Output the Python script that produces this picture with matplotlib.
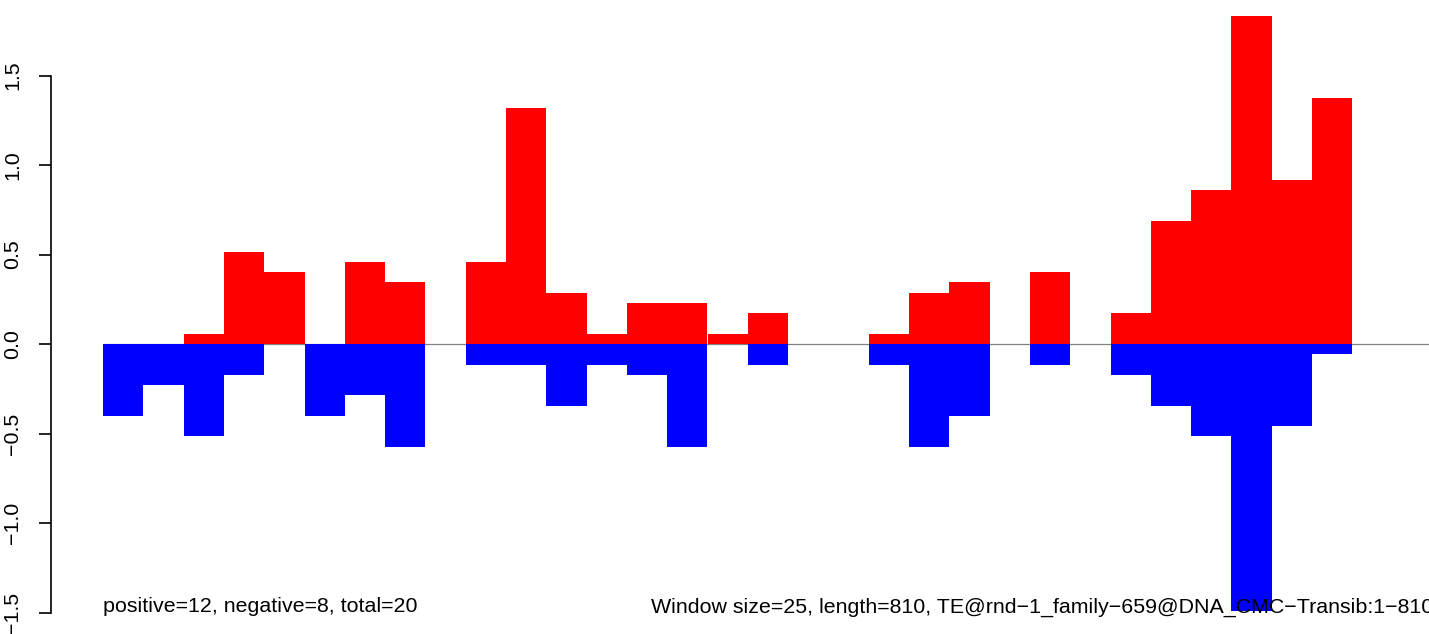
#! /usr/bin/env python3
import matplotlib
matplotlib.use('Agg')
import matplotlib.pyplot as plt
import numpy as np

#Window data, one value per window of 25 bp
nWindows = 33
positive = [0, 0, 0.057, 0.516, 0.401, 0, 0.458, 0.344, 0, 0.458,
            1.318, 0.287, 0.057, 0.229, 0.229, 0.057, 0.172, 0, 0, 0.057,
            0.287, 0.344, 0, 0.401, 0, 0.172, 0.688, 0.860, 1.834, 0.917,
            1.375, 0, 0]
negative = [0.401, 0.229, 0.516, 0.172, 0, 0.401, 0.287, 0.573, 0, 0.115,
            0.115, 0.344, 0.115, 0.172, 0.573, 0, 0.115, 0, 0, 0.115,
            0.573, 0.401, 0, 0.115, 0, 0.172, 0.344, 0.516, 1.49, 0.458,
            0.057, 0, 0]
yTicks = [-1.5, -1.0, -0.5, 0.0, 0.5, 1.0, 1.5]
leftText = "positive=12, negative=8, total=20"
rightText = "Window size=25, length=810, TE@rnd\u22121_family\u2212659@DNA_CMC\u2212Transib:1\u2212810"

plt.rcParams['font.family'] = ['Liberation Sans', 'DejaVu Sans']

W, H = 1429, 634
fig = plt.figure(figsize=(W / 100, H / 100), dpi=100)
#Plot region: y axis line at x=51px, everything else fills the figure
ax = fig.add_axes([51 / W, 0, 1 - 51 / W, 1])

x = np.arange(nWindows)
ax.hlines(0, 0, nWindows, color='#808080', lw=0.9, zorder=1)
ax.bar(x, positive, width=1.0, align='edge', color='#ff0000', linewidth=0, zorder=2)
ax.bar(x, -np.array(negative), width=1.0, align='edge', color='#0000ff', linewidth=0, zorder=2)

ax.set_xlim(-52 / 40.3, (W - 103) / 40.3)
ax.set_ylim(-(H - 344) / 179.0, 344 / 179.0)

for s in ('top', 'right', 'bottom'):
    ax.spines[s].set_visible(False)
ax.spines['left'].set_bounds(yTicks[0], yTicks[-1])
ax.spines['left'].set_linewidth(1.2)
ax.set_xticks([])
ax.set_yticks(yTicks)
ax.set_yticklabels(['\u22121.5', '\u22121.0', '\u22120.5', '0.0', '0.5', '1.0', '1.5'],
                   rotation=90, va='center', fontsize=15.4)
ax.tick_params(axis='y', length=8.6, width=1.2, pad=12)
ax.patch.set_alpha(0)

ax.text(0, -1.5, leftText, ha='left', va='baseline', fontsize=15.4, zorder=5)
ax.text(nWindows, -1.5, rightText, ha='right', va='baseline', fontsize=15.4, zorder=5)

fig.savefig('out.png', dpi=100)
